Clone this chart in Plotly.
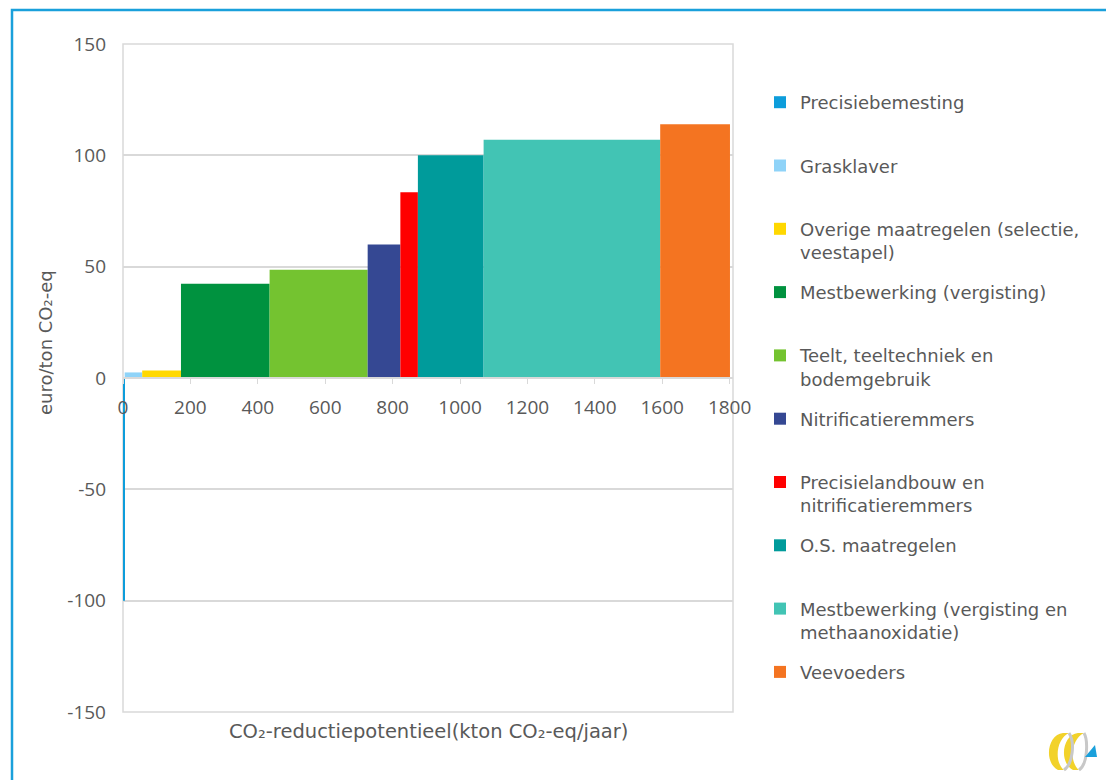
import plotly.graph_objects as go

# ---- data ----
measures = [
    "Precisiebemesting",
    "Grasklaver",
    "Overige maatregelen (selectie,<br>veestapel)",
    "Mestbewerking (vergisting)",
    "Teelt, teeltechniek en<br>bodemgebruik",
    "Nitrificatieremmers",
    "Precisielandbouw en<br>nitrificatieremmers",
    "O.S. maatregelen",
    "Mestbewerking (vergisting en<br>methaanoxidatie)",
    "Veevoeders",
]
potential_kton = [5, 52, 115, 263, 291, 97, 52, 195, 524, 207]   # bar widths (kton CO2-eq/jaar)
cost_eur_ton = [-100, 2.5, 3.4, 42.3, 48.6, 60, 83.4, 100, 107, 114]  # euro/ton CO2-eq
colors = ["#0D9DDB", "#8FD3F8", "#FFD800", "#00923F", "#74C330",
          "#354893", "#FF0000", "#009B9B", "#42C4B4", "#F47421"]

x_ticks = [0, 200, 400, 600, 800, 1000, 1200, 1400, 1600, 1800]
y_ticks = [-150, -100, -50, 0, 50, 100, 150]
y_ticktext = ["-150", "-100", "-50", "0", "50", "100", "150"]

# ---- layout geometry (pixels) ----
W, H = 1106, 780
L, R, T, B = 123, 733, 44, 712


def px(x):
    return (x - L) / (R - L)


def py(y):
    return 1 - (y - T) / (B - T)


GRAY = "#595959"
TICKFONT = "Open Sans"
TEXTFONT = "DejaVu Sans"

fig = go.Figure()
start = 0
for name, w, v, c in zip(measures, potential_kton, cost_eur_ton, colors):
    label = name if "<br>" in name else name + "<br>\u00a0"
    fig.add_trace(go.Bar(
        x=[start + w / 2], y=[v], width=[w],
        marker=dict(color=c, line=dict(width=0)),
        name=label, legendgroup=name,
        hovertemplate=name.replace("<br>", " ") + ": %{y}<extra></extra>",
    ))
    start += w

shapes = [
    # plot frame
    dict(type="rect", xref="paper", yref="paper", x0=0, y0=0, x1=1, y1=1,
         line=dict(color="#D9D9D9", width=1.5), layer="below"),
    # outer blue frame
    dict(type="rect", xref="paper", yref="paper", x0=px(12), y0=py(10),
         x1=px(1130), y1=py(800), line=dict(color="#1AA0DB", width=2.5)),
    # logo: yellow ribbons
    dict(type="path", xref="paper", yref="paper",
         path=f"M{px(1063)},{py(733)} C{px(1048)},{py(734)} {px(1043)},{py(762)} {px(1058)},{py(770)} "
              f"L{px(1064)},{py(770)} C{px(1054)},{py(762)} {px(1056)},{py(739)} {px(1069)},{py(733)} Z",
         fillcolor="#F2D22A", line=dict(width=0)),
    dict(type="path", xref="paper", yref="paper",
         path=f"M{px(1078)},{py(733)} C{px(1063)},{py(734)} {px(1058)},{py(762)} {px(1073)},{py(770)} "
              f"L{px(1079)},{py(770)} C{px(1069)},{py(762)} {px(1071)},{py(739)} {px(1084)},{py(733)} Z",
         fillcolor="#F2D22A", line=dict(width=0)),
    dict(type="path", xref="paper", yref="paper",
         path=f"M{px(1069)},{py(733)} C{px(1075)},{py(742)} {px(1073)},{py(764)} {px(1064)},{py(770)}",
         line=dict(color="#C8C8C8", width=3)),
    dict(type="path", xref="paper", yref="paper",
         path=f"M{px(1084)},{py(733)} C{px(1088)},{py(740)} {px(1088)},{py(764)} {px(1079)},{py(770)}",
         line=dict(color="#C8C8C8", width=3)),
    dict(type="path", xref="paper", yref="paper",
         path=f"M{px(1085)},{py(757)} L{px(1097)},{py(757)} L{px(1095)},{py(745)} Z",
         fillcolor="#1AA0DB", line=dict(width=0)),
]

annotations = [
    dict(text="euro/ton CO\u2082-eq", xref="paper", yref="paper", x=px(45), y=py(343),
         xanchor="center", yanchor="middle",
         textangle=-90, showarrow=False, font=dict(family=TEXTFONT, size=18, color=GRAY)),
    dict(text="CO\u2082-reductiepotentieel(kton CO\u2082-eq/jaar)", xref="paper", yref="paper",
         x=0.5, y=py(731), xanchor="center", yanchor="middle",
         showarrow=False, font=dict(family=TEXTFONT, size=19.5, color=GRAY)),
]

fig.update_layout(
    width=W, height=H,
    margin=dict(l=L, r=W - R, t=T, b=H - B),
    paper_bgcolor="white", plot_bgcolor="white",
    barmode="overlay",
    font=dict(family=TICKFONT, size=19, color=GRAY),
    xaxis=dict(range=[0, 1810], anchor="free", position=0.5,
               tickvals=x_ticks, showline=True, linecolor="#D9D9D9", linewidth=1.5,
               ticks="outside", ticklen=5, tickcolor="#D9D9D9", showgrid=False,
               zeroline=False, ticklabelstandoff=7,
               tickfont=dict(family=TICKFONT, size=19, color=GRAY)),
    yaxis=dict(range=[-150, 150], tickvals=y_ticks, ticktext=y_ticktext,
               showgrid=True, gridcolor="#D9D9D9", gridwidth=1.5, zeroline=False,
               showline=False, ticks="", ticklabelstandoff=16,
               tickfont=dict(family=TICKFONT, size=19, color=GRAY)),
    legend=dict(x=px(760), y=py(84), xanchor="left", yanchor="top",
                traceorder="grouped", tracegroupgap=13.5, valign="top",
                font=dict(family=TEXTFONT, size=18, color=GRAY), bgcolor="rgba(0,0,0,0)"),
    shapes=shapes,
    annotations=annotations,
    showlegend=True,
)

fig.write_html("out.html")
